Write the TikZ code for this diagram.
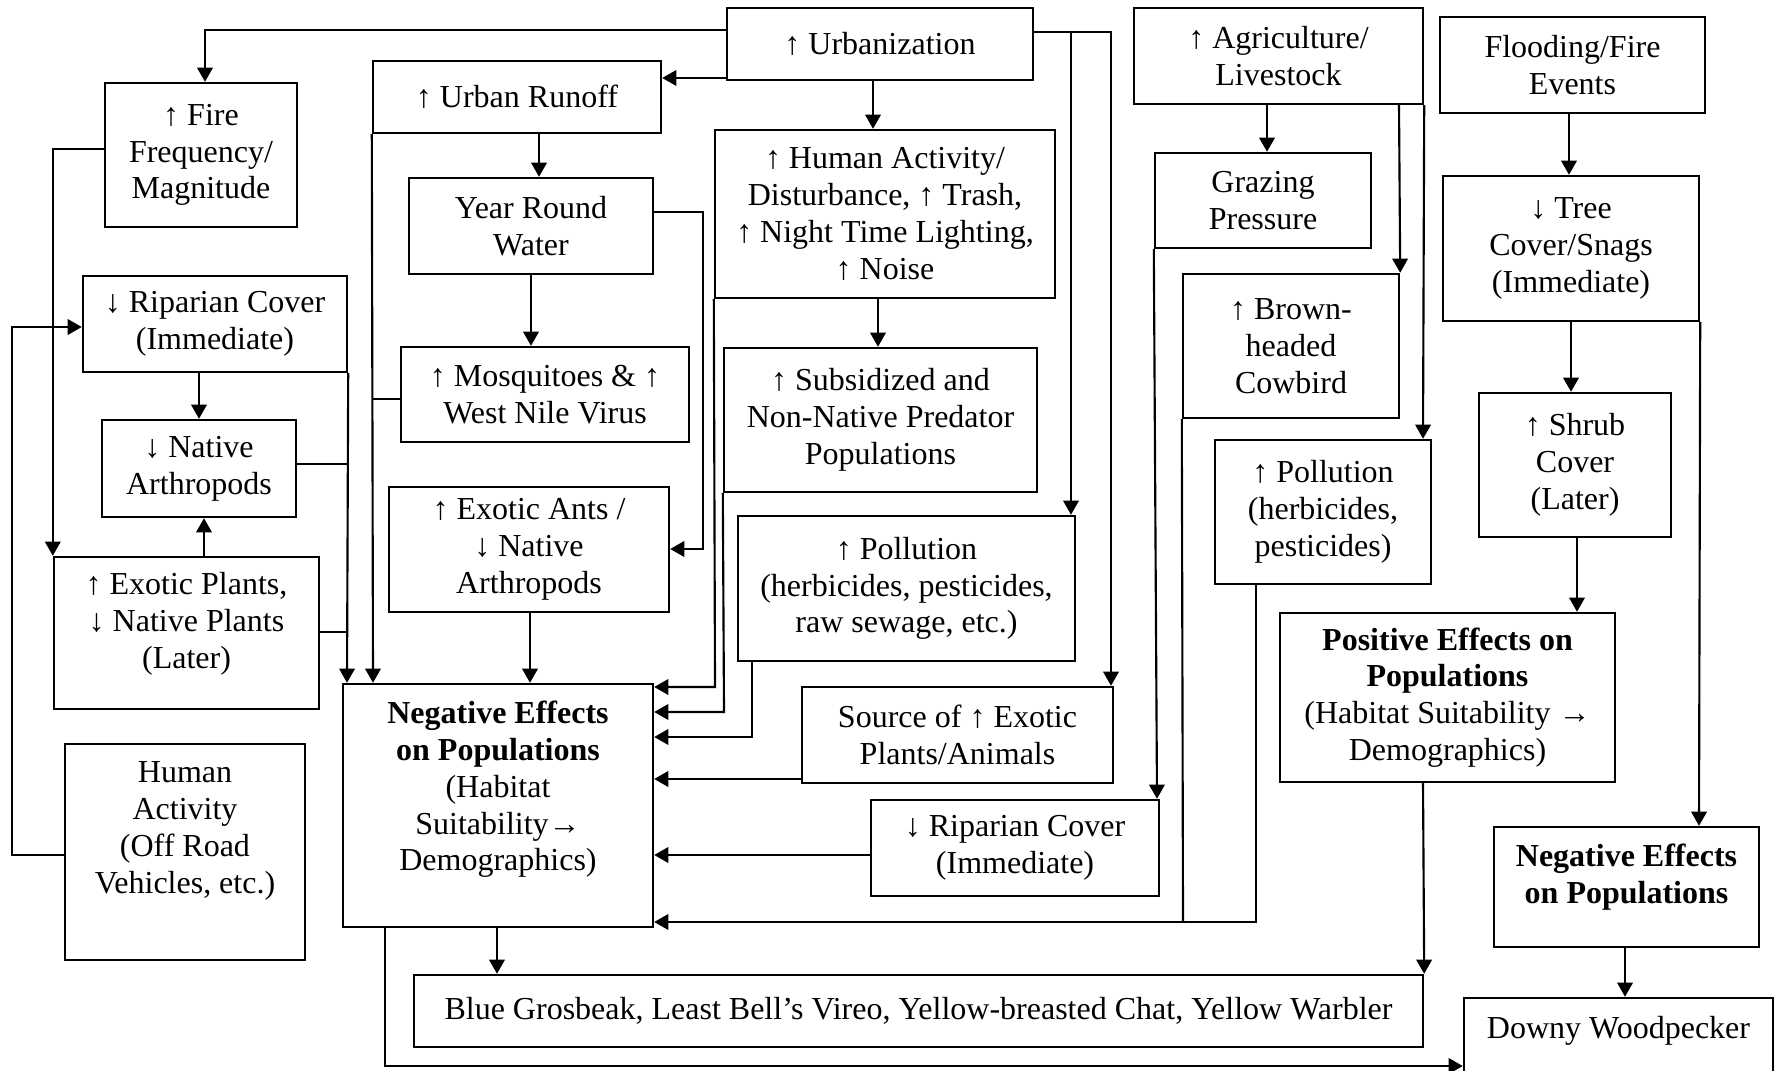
\documentclass[tikz,border=0pt]{standalone}
\usepackage{fontspec}
\setmainfont{Liberation Serif}
\usetikzlibrary{arrows.meta}
\newcommand\lowpad[1]{\rule[-#1]{0pt}{#1}}
\newcommand\bx[6]{\node[box, minimum width={(#4-#2)*0.375pt}, minimum height={(#5-#3)*0.375pt}] (#1) at ({(#2+#4)/2},{(#3+#5)/2}) {#6};}
\begin{document}
\begin{tikzpicture}[x=0.375pt,y=-0.375pt,
  box/.style={draw, line width=0.9pt, align=center, inner sep=1pt, font=\fontsize{12}{13.8}\selectfont},
  ln/.style={line width=0.8pt},
  arr/.style={ln, -{Triangle[length=5.3pt,width=5.8pt]}}]
\useasboundingbox (0,0) rectangle (1776,1071);
\clip (0,0) rectangle (1776,1071);
% boxes
\bx{urb}{727}{8}{1033}{80}{↑ Urbanization}
\bx{runoff}{373}{61}{661}{133}{↑ Urban Runoff}
\bx{fire}{105}{83}{297}{227}{↑ Fire\\Frequency/\\Magnitude}
\bx{yrw}{409}{178}{653}{274}{Year Round\\Water}
\bx{hum}{715}{130}{1055}{298}{↑ Human Activity/\\Disturbance, ↑ Trash,\\↑ Night Time Lighting,\\↑ Noise}
\bx{agr}{1134}{8}{1423}{104}{↑ Agriculture/\\Livestock}
\bx{flood}{1440}{17}{1705}{113}{Flooding/Fire\\Events}
\bx{graz}{1155}{153}{1371}{248}{Grazing\\Pressure}
\bx{tree}{1443}{176}{1699}{321}{↓ Tree\\Cover/Snags\\(Immediate)}
\bx{ripl}{83}{276}{347}{372}{↓ Riparian Cover\\(Immediate)}
\bx{brown}{1183}{274}{1399}{418}{↑ Brown-\\headed\\Cowbird}
\bx{mosq}{401}{347}{689}{442}{↑ Mosquitoes \& ↑\\West Nile Virus}
\bx{sub}{724}{348}{1037}{492}{↑ Subsidized and\\Non-Native Predator\\Populations}
\bx{native}{102}{420}{296}{517}{↓ Native\\Arthropods}
\bx{shrub}{1479}{393}{1671}{537}{↑ Shrub\\Cover\\(Later)}
\bx{polr}{1215}{440}{1431}{584}{↑ Pollution\\(herbicides,\\pesticides)}
\bx{ants}{389}{487}{669}{612}{↑ Exotic Ants /\\↓ Native\\Arthropods}
\bx{polm}{738}{516}{1075}{661}{↑ Pollution\\(herbicides, pesticides,\\raw sewage, etc.)}
\bx{explant}{54}{557}{319}{709}{↑ Exotic Plants,\\↓ Native Plants\\(Later)\lowpad{9.4pt}}
\bx{pos}{1280}{613}{1615}{782}{\textbf{Positive Effects on}\\\textbf{Populations}\\(Habitat Suitability →\\Demographics)}
\bx{neg}{343}{684}{653}{927}{\textbf{Negative Effects}\\\textbf{on Populations}\\(Habitat\\Suitability→\\Demographics)\lowpad{14.6pt}}
\bx{src}{802}{687}{1113}{783}{Source of ↑ Exotic\\Plants/Animals}
\bx{huml}{65}{744}{305}{960}{Human\\Activity\\(Off Road\\Vehicles, etc.)\lowpad{18.4pt}}
\bx{ripr}{871}{800}{1159}{896}{↓ Riparian Cover\\(Immediate)}
\bx{negr}{1494}{827}{1759}{947}{\textbf{Negative Effects}\\\textbf{on Populations}\lowpad{10pt}}
\bx{blue}{414}{975}{1423}{1047}{Blue Grosbeak, Least Bell’s Vireo, Yellow-breasted Chat, Yellow Warbler}
\bx{downy}{1464}{998}{1773}{1090}{Downy Woodpecker\lowpad{12.4pt}}
% connectors
\draw[arr] (urb.west |- 0,30) -| (fire.north -| 205,0);
\draw[arr] (urb.west |- 0,78) -- (runoff.east |- 0,78);
\draw[arr] (urb.south -| 873,0) -- (hum.north -| 873,0);
\draw[arr] (urb.east |- 0,32) -| (polm.north -| 1071,0);
\draw[arr] (urb.east |- 0,32) -| (src.north -| 1111,0);
\draw[arr] (runoff.south -| 539,0) -- (yrw.north -| 539,0);
\draw[arr] (runoff.south west) -- (neg.north -| 373,0);
\draw[ln] (mosq.west |- 0,399) -- (373,399);
\draw[arr] (yrw.south -| 531,0) -- (mosq.north -| 531,0);
\draw[arr] (yrw.east |- 0,212) -- (703,212) -- (703,549) -- (ants.east |- 0,549);
\draw[arr] (hum.south west) -- (715,687) -- (neg.east |- 0,687);
\draw[arr] (hum.south -| 878,0) -- (sub.north -| 878,0);
\draw[arr] (sub.south west) -- (724,712) -- (neg.east |- 0,712);
\draw[arr] (polm.south -| 752,0) -- (752,737) -- (neg.east |- 0,737);
\draw[arr] (src.west |- 0,779) -- (neg.east |- 0,779);
\draw[arr] (ripr.west |- 0,855) -- (neg.east |- 0,855);
\draw[arr] (agr.south -| 1267,0) -- (graz.north -| 1267,0);
\draw[arr] (agr.south -| 1399,0) -- (brown.north east);
\draw[arr] (agr.south east) -- (polr.north -| 1423,0);
\draw[arr] (graz.south west) -- (ripr.north -| 1157,0);
\draw[ln] (brown.south west) -- (1183,922);
\draw[arr] (polr.south -| 1256,0) -- (1256,922) -- (neg.east |- 0,922);
\draw[arr] (flood.south -| 1569,0) -- (tree.north -| 1569,0);
\draw[arr] (tree.south -| 1571,0) -- (shrub.north -| 1571,0);
\draw[arr] (shrub.south -| 1577,0) -- (pos.north -| 1577,0);
\draw[arr] (tree.south east) -- (negr.north -| 1699,0);
\draw[arr] (negr.south -| 1625,0) -- (downy.north -| 1625,0);
\draw[arr] (pos.south -| 1423,0) -- (blue.north east);
\draw[arr] (neg.south -| 497,0) -- (blue.north -| 497,0);
\draw[arr] (neg.south -| 385,0) -- (385,1066) -- (downy.west |- 0,1066);
\draw[arr] (fire.west |- 0,149) -| (explant.north west);
\draw[arr] (ripl.south -| 199,0) -- (native.north -| 199,0);
\draw[arr] (ripl.south east) -- (neg.north -| 347,0);
\draw[ln] (native.east |- 0,464) -- (347,464);
\draw[ln] (explant.east |- 0,632) -- (347,632);
\draw[arr] (explant.north -| 204,0) -- (native.south -| 204,0);
\draw[arr] (huml.west |- 0,855) -- (12,855) -- (12,327) -- (ripl.west |- 0,327);
\draw[arr] (ants.south -| 530,0) -- (neg.north -| 530,0);
\end{tikzpicture}
\end{document}
